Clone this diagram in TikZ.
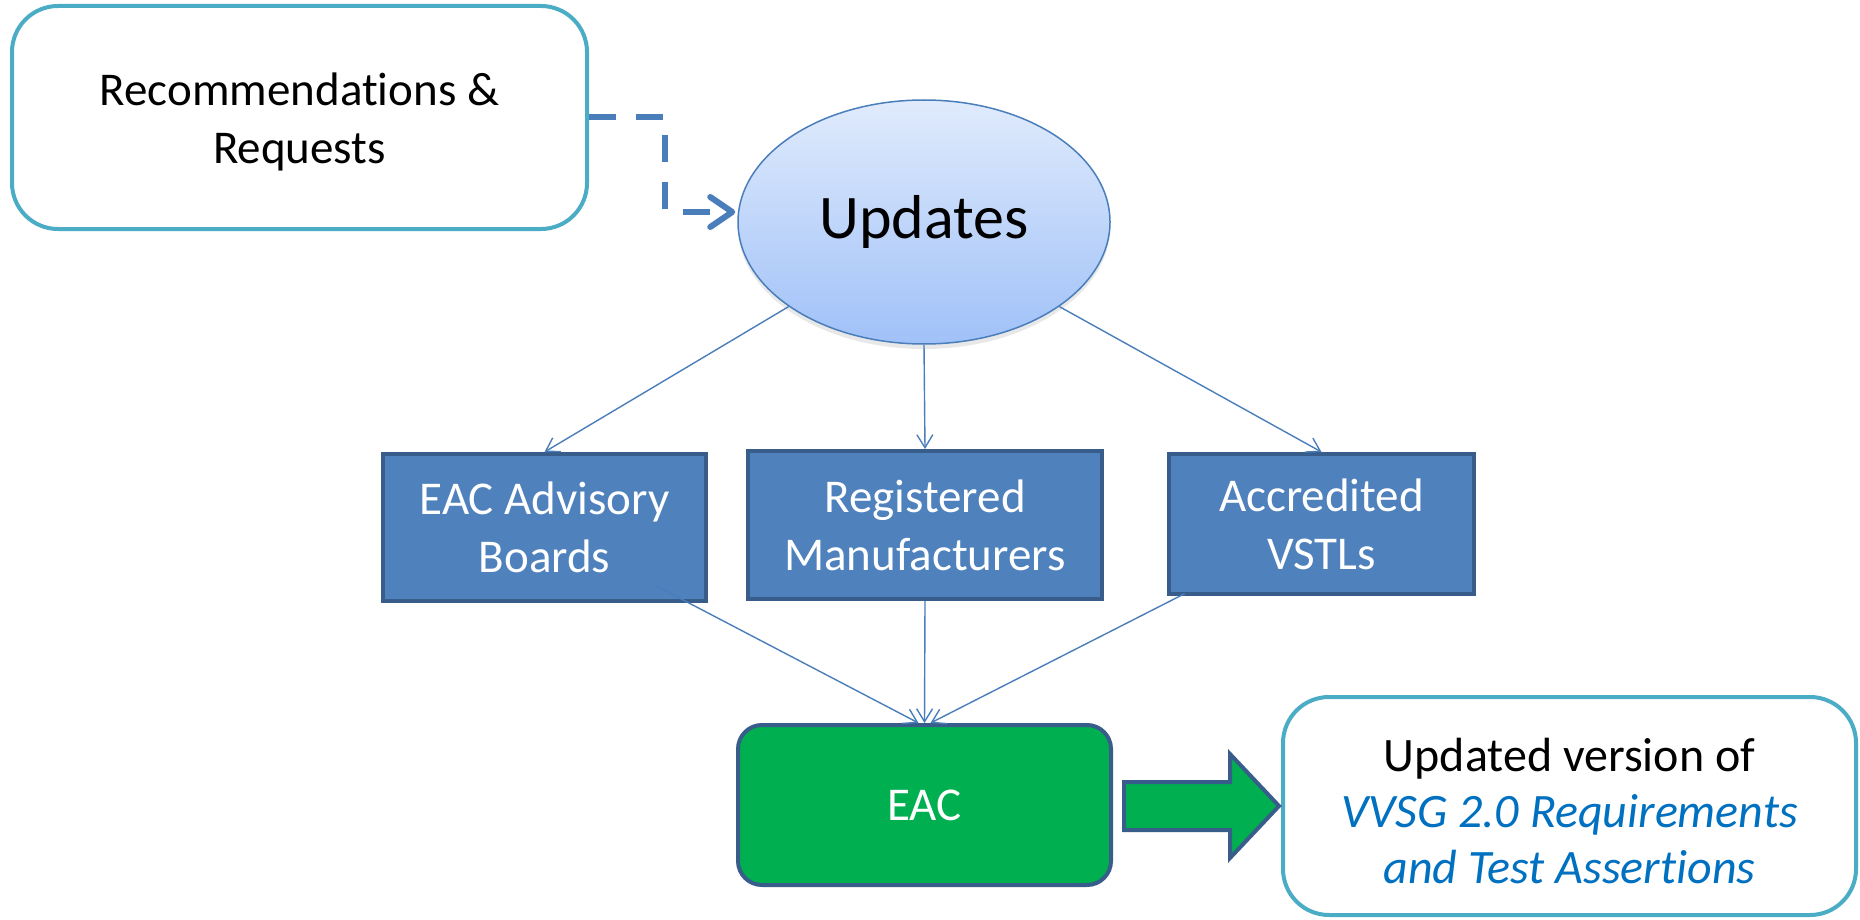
\documentclass[tikz,border=0pt]{standalone}
\usepackage{fontspec}
\setmainfont{Carlito}[Ligatures={NoCommon}]
\usetikzlibrary{shapes.geometric,arrows.meta,calc,shadows}
\definecolor{tealb}{HTML}{4BACC6}
\definecolor{boxblue}{HTML}{4F81BD}
\definecolor{boxedge}{HTML}{385D8A}
\definecolor{linkblue}{HTML}{4A7EBB}
\definecolor{eacgreen}{HTML}{00B050}
\definecolor{italblue}{HTML}{0070C0}
\definecolor{elltop}{HTML}{E0EBFC}
\definecolor{ellbot}{HTML}{A0C1F8}
\begin{document}
\begin{tikzpicture}[x=1pt,y=-1pt,
  txt/.style={font=\fontsize{47}{58}\selectfont, align=center},
  outline/.style={draw=tealb, line width=4pt, rounded corners=46pt, fill=white, txt},
  bluebox/.style={draw=boxedge, line width=4pt, fill=boxblue, text=white, txt},
  thin/.style={draw=linkblue, line width=1.4pt, -{Straight Barb[length=13pt,width=16pt]}},
]
\useasboundingbox (0,0) rectangle (1860,920);

\node[outline, minimum width=575pt, minimum height=223pt] (rec) at (299.5,117.5) {};
\node[txt] (rectext) at ($(rec.center)+(0,4)$) {Recommendations \&\\Requests};

\node[ellipse, draw=linkblue, line width=1.5pt, top color=elltop, bottom color=ellbot,
  minimum width=372pt, minimum height=244pt, inner sep=0pt,
  drop shadow={shadow xshift=0pt, shadow yshift=-5pt, opacity=0.18},
  font=\fontsize{62}{70}\selectfont] (upd) at (924,222) {Updates};

\node[bluebox, minimum width=323pt, minimum height=147pt] (adv) at (544.5,527.5) {EAC Advisory\\Boards};
\node[bluebox, minimum width=354pt, minimum height=148pt] (reg) at (925,525) {Registered\\Manufacturers};
\node[bluebox, minimum width=305pt, minimum height=140pt] (vst) at (1321.5,524) {Accredited\\VSTLs};

\node[draw=boxedge, line width=4pt, fill=eacgreen, rounded corners=24pt, text=white, txt,
  minimum width=373pt, minimum height=160pt] (eac) at (924.5,805) {EAC};

\node[outline, minimum width=573pt, minimum height=218pt] (out) at (1569.5,806) {};
\node[align=center, font=\fontsize{48}{56}\selectfont] (outtext) at ($(out.center)+(0,5)$)
  {Updated version of\\ \textit{\textcolor{italblue}{VVSG 2.0 Requirements}}\\ \textit{\textcolor{italblue}{and Test Assertions}}};

% dashed connector
\draw[linkblue, line width=6pt, dash pattern=on 27pt off 20pt,
  -{Straight Barb[length=22pt,width=30pt,line width=6pt,round]}]
  (rec.east) -- ++(76,0) |- ($(upd.west)+(-2,-10)$);

% from updates
\draw[thin] (upd.212) -- (adv.north);
\draw[thin] (upd.south) -- (reg.north);
\draw[thin] (upd.328) -- (vst.north);

% to EAC
\draw[thin] ($(adv.center)!0.30!($(eac.north)+(-6,0)$)$) -- ($(eac.north)+(-6,0)$);
\draw[thin] (reg.south) -- (eac.north);
\draw[thin] ($(vst.center)!0.35!($(eac.north)+(6,0)$)$) -- ($(eac.north)+(6,0)$);

% block arrow
\draw[boxedge, line width=4pt, fill=eacgreen, line join=miter]
  ($(eac.east)+(11,-23)$) -- ++(106,0) -- ++(0,-28) -- ($(out.west)+(-2,0)$)
  -- ($(eac.east)+(117,53)$) -- ++(0,-28) -- ++(-106,0) -- cycle;
\end{tikzpicture}
\end{document}
